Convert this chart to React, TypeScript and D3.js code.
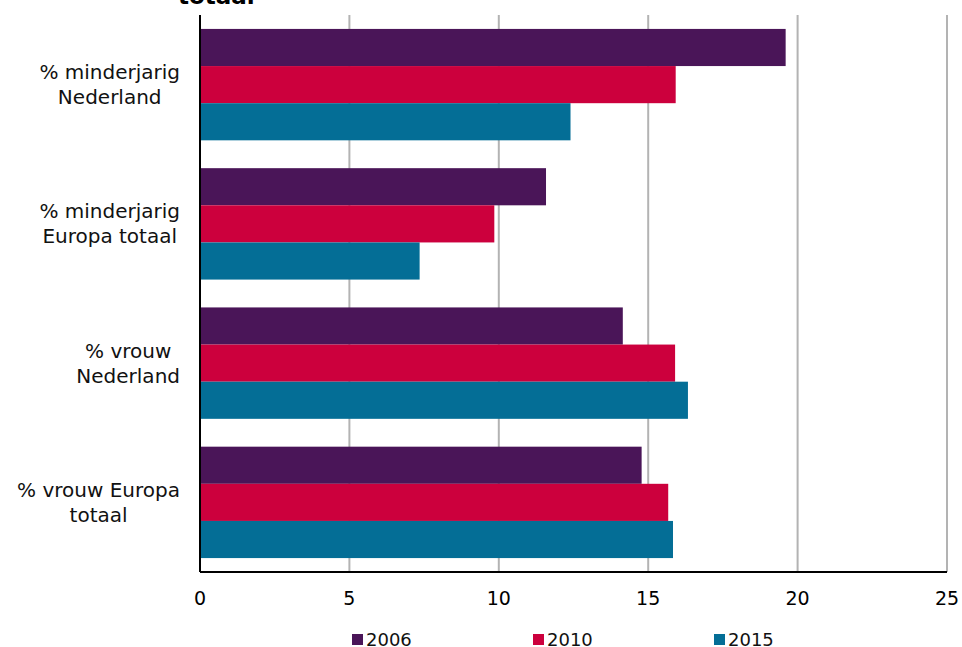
import { useEffect, useRef } from "react";
import * as d3 from "d3";

const categories = [
  ["% minderjarig", "Nederland"],
  ["% minderjarig", "Europa totaal"],
  ["% vrouw", "Nederland"],
  ["% vrouw Europa", "totaal"],
];
const years = ["2006", "2010", "2015"];
const values2006 = [19.6, 11.58, 14.15, 14.78];
const values2010 = [15.92, 9.85, 15.9, 15.67];
const values2015 = [12.4, 7.35, 16.33, 15.83];
const colors = ["#4a1558", "#cc003d", "#046e96"];
const xTicks = [0, 5, 10, 15, 20, 25];

function App() {
  const ref = useRef<SVGSVGElement>(null);
  const width = 962;
  const height = 647;
  const margin = { top: 15, right: 15, bottom: 75, left: 200 };
  const font = "'DejaVu Sans', Verdana, sans-serif";

  useEffect(() => {
    const svg = d3.select(ref.current);
    svg.selectAll("*").remove();

    const x = d3.scaleLinear().domain([0, 25]).range([margin.left, width - margin.right]);
    const y = d3
      .scaleBand()
      .domain(categories.map((_, i) => String(i)))
      .range([margin.top, height - margin.bottom])
      .paddingInner(0.2)
      .paddingOuter(0.1);
    const yInner = d3.scaleBand().domain(years).range([0, y.bandwidth()]);
    const series = [values2006, values2010, values2015];

    // title (cut off at the top, as in the source)
    svg
      .append("text")
      .attr("x", 178)
      .attr("y", 4)
      .attr("font-family", font)
      .attr("font-weight", "bold")
      .attr("font-size", 23)
      .text("totaal");

    // gridlines
    svg
      .append("g")
      .selectAll("line")
      .data(xTicks.slice(1))
      .join("line")
      .attr("x1", (d) => x(d))
      .attr("x2", (d) => x(d))
      .attr("y1", margin.top)
      .attr("y2", height - margin.bottom)
      .attr("stroke", "#b3b3b3")
      .attr("stroke-width", 2);

    // bars
    categories.forEach((_, ci) => {
      const g = svg.append("g").attr("transform", `translate(0,${y(String(ci))})`);
      years.forEach((yr, si) => {
        g.append("rect")
          .attr("x", x(0))
          .attr("y", yInner(yr) as number)
          .attr("width", x(series[si][ci]) - x(0))
          .attr("height", yInner.bandwidth())
          .attr("fill", colors[si]);
      });
    });

    // axis lines
    svg
      .append("line")
      .attr("x1", x(0))
      .attr("x2", x(25))
      .attr("y1", height - margin.bottom)
      .attr("y2", height - margin.bottom)
      .attr("stroke", "#000")
      .attr("stroke-width", 2);
    svg
      .append("line")
      .attr("x1", x(0))
      .attr("x2", x(0))
      .attr("y1", margin.top)
      .attr("y2", height - margin.bottom)
      .attr("stroke", "#000")
      .attr("stroke-width", 2);

    // tick labels
    svg
      .append("g")
      .selectAll("text")
      .data(xTicks)
      .join("text")
      .attr("x", (d) => x(d))
      .attr("y", 605)
      .attr("text-anchor", "middle")
      .attr("font-family", font)
      .attr("font-size", 19)
      .attr("fill", "#000")
      .text((d) => d);

    // category labels: block right-aligned, lines centered in block
    categories.forEach((lines, ci) => {
      const cy = (y(String(ci)) as number) + y.bandwidth() / 2;
      const g = svg.append("g");
      const texts = lines.map((line, li) =>
        g
          .append("text")
          .attr("y", cy + (li - (lines.length - 1) / 2) * 25 + 7)
          .attr("text-anchor", "middle")
          .attr("font-family", font)
          .attr("font-size", 20)
          .attr("fill", "#111")
          .text(line)
      );
      const w = d3.max(texts, (t) => (t.node() as SVGTextElement).getComputedTextLength()) || 0;
      texts.forEach((t) => t.attr("x", 180 - w / 2));
    });

    // legend
    const legend = svg.append("g");
    years.forEach((yr, i) => {
      const lx = 352 + i * 181;
      legend
        .append("rect")
        .attr("x", lx)
        .attr("y", 634)
        .attr("width", 11)
        .attr("height", 11)
        .attr("fill", colors[i]);
      legend
        .append("text")
        .attr("x", lx + 14)
        .attr("y", 646)
        .attr("font-family", font)
        .attr("font-size", 18)
        .attr("fill", "#111")
        .text(yr);
    });
  }, []);

  return (
    <svg
      ref={ref}
      width={width}
      height={height}
      style={{ position: "absolute", left: 0, top: 0, background: "#fff" }}
    />
  );
}

export default App;
